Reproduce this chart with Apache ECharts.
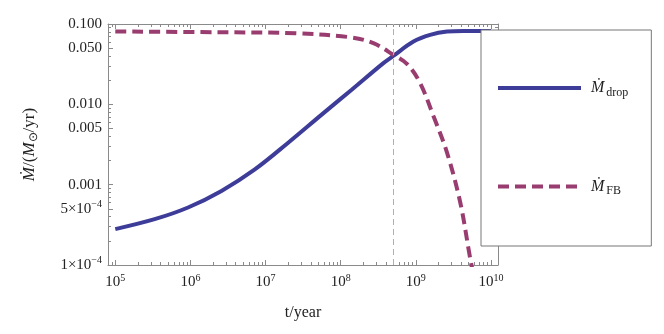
<!DOCTYPE html>
<html><head><meta charset="utf-8">
<script src="https://cdn.jsdelivr.net/npm/echarts@6/dist/echarts.min.js"></script>
<style>html,body{margin:0;padding:0;background:#fff}#c{width:664px;height:334px}</style>
</head><body><div id="c"></div>
<script>
// t in years, Mdot in Msun/yr
var tDrop = [1.0e5, 3.34e5, 9.3e5, 2.59e6, 7.2e6, 2.0e7, 5.58e7, 1.40e8, 3.7e8, 5.0e8, 9.3e8, 1.55e9, 2.6e9, 4.3e9, 7.2e9, 1.0e10];
var mDrop = [2.80e-4, 3.72e-4, 5.20e-4, 8.36e-4, 1.55e-3, 3.33e-3, 7.45e-3, 0.0152, 0.0326, 0.0400, 0.0604, 0.0731, 0.0804, 0.0818, 0.0818, 0.0818];
var tFB = [1.0e5, 2.5e6, 2.5e7, 1.33e8, 2.72e8, 5.0e8, 7.6e8, 1.14e9, 1.72e9, 2.6e9, 3.9e9, 5.3e9, 5.8e9];
var mFB = [0.0807, 0.0789, 0.0767, 0.0684, 0.0577, 0.0415, 0.0320, 0.0184, 0.0071, 0.0025, 6.0e-4, 1.19e-4, 7.9e-5];
var tMark = 5.0e8;
var xTickValues = [1e5, 1e6, 1e7, 1e8, 1e9, 1e10];
var xTickLabels = ['10{sup|5}', '10{sup|6}', '10{sup|7}', '10{sup|8}', '10{sup|9}', '10{sup|10}'];
var yTickValues = [1e-4, 5e-4, 0.001, 0.005, 0.01, 0.05, 0.1];
var yTickLabels = ['1×10{sup|−4}', '5×10{sup|−4}', '0.001', '0.005', '0.010', '0.050', '0.100'];
var xRange = [8e4, 1.24e10];
var yRange = [1e-4, 0.1];

var L = Math.log10;
function pairs(t, m) { return t.map(function (v, i) { return [L(v), L(m[i])]; }); }
function minorTicks(lo, hi) {
  var out = [];
  for (var d = Math.floor(lo) - 1; d <= Math.ceil(hi); d++) {
    for (var k = 1; k <= 9; k++) { var v = d + L(k); if (v >= lo - 1e-9 && v <= hi + 1e-9) out.push(v); }
  }
  return out;
}
function labelFor(vals, labs) {
  return function (v) {
    for (var i = 0; i < vals.length; i++) if (Math.abs(L(vals[i]) - v) < 1e-6) return labs[i];
    return '';
  };
}
var xmin = L(xRange[0]), xmax = L(xRange[1]), ymin = L(yRange[0]), ymax = L(yRange[1]);
var xMajor = xTickValues.map(L), yMajor = yTickValues.map(L);
var xMinor = minorTicks(xmin, xmax), yMinor = minorTicks(ymin, ymax);
var gray = '#8a8a8a';
var font = 'Liberation Serif';
var supRich = { sup: { fontSize: 10, fontFamily: font, padding: [0, 0, 9, 0], color: '#222' } };

function xAx(pos, ticks, len, showLabel, showLine) {
  var a = {
    type: 'value', position: pos, min: xmin, max: xmax, gridIndex: 0,
    splitLine: { show: false },
    axisLine: { show: showLine, onZero: false, lineStyle: { color: gray, width: 1 } },
    axisTick: { show: true, inside: true, length: len, customValues: ticks, lineStyle: { color: gray } },
    axisLabel: { show: showLabel, customValues: xMajor, formatter: labelFor(xTickValues, xTickLabels),
      fontFamily: font, fontSize: 15, color: '#222', margin: 8, rich: supRich }
  };
  if (showLabel) {
    a.name = 't/year'; a.nameLocation = 'middle'; a.nameGap = 40;
    a.nameTextStyle = { fontFamily: font, fontSize: 16, color: '#222' };
  }
  return a;
}
function yAx(pos, ticks, len, showLabel, showLine) {
  var a = {
    type: 'value', position: pos, min: ymin, max: ymax, gridIndex: 0,
    splitLine: { show: false },
    axisLine: { show: showLine, onZero: false, lineStyle: { color: gray, width: 1 } },
    axisTick: { show: true, inside: true, length: len, customValues: ticks, lineStyle: { color: gray } },
    axisLabel: { show: showLabel, customValues: yMajor, formatter: labelFor(yTickValues, yTickLabels),
      fontFamily: font, fontSize: 15, color: '#222', margin: 6, rich: supRich }
  };
  if (showLabel) {
    a.name = '{m|Ṁ}/({m|M}{s|⊙}/yr)'; a.nameLocation = 'middle'; a.nameGap = 68; a.nameRotate = 90;
    a.nameTextStyle = { fontFamily: font, fontSize: 17, color: '#222',
      rich: { m: { fontFamily: font, fontSize: 17, fontStyle: 'italic', color: '#222' },
              s: { fontFamily: font, fontSize: 12, color: '#222', padding: [8, 0, 0, 0] } } };
  }
  return a;
}

var chart = echarts.init(document.getElementById('c'), null, { renderer: 'canvas' });
chart.setOption({
  animation: false,
  backgroundColor: '#fff',
  grid: { left: 108, right: 166, top: 24, bottom: 69, containLabel: false },
  xAxis: [xAx('bottom', xMajor, 5, true, true), xAx('bottom', xMinor, 3, false, false),
          xAx('top', xMajor, 5, false, true), xAx('top', xMinor, 3, false, false)],
  yAxis: [yAx('left', yMajor, 5, true, true), yAx('left', yMinor, 3, false, false),
          yAx('right', yMajor, 5, false, true), yAx('right', yMinor, 3, false, false)],
  legend: {
    orient: 'vertical', left: 481, top: 30, itemWidth: 83, itemHeight: 14, itemGap: 80,
    padding: [50, 23, 49, 15], backgroundColor: '#fff', borderColor: '#777', borderWidth: 1,
    data: ['drop', 'FB'],
    itemStyle: { opacity: 0 },
    lineStyle: { width: 4 },
    formatter: function (n) { return '{m|Ṁ}{s|' + n + '}'; },
    textStyle: { fontFamily: font, color: '#222',
      rich: { m: { fontFamily: font, fontSize: 16, fontStyle: 'italic', color: '#222', padding: [0, 0, 0, 5] },
              s: { fontFamily: font, fontSize: 12, color: '#222', padding: [9, 0, 0, 2] } } }
  },
  series: [
    { name: 'drop', type: 'line', data: pairs(tDrop, mDrop), showSymbol: false, symbol: 'none',
      smooth: 0.35, clip: true, color: '#3d3d99', lineStyle: { color: '#3d3d99', width: 4 },
      markLine: { silent: true, symbol: 'none', label: { show: false },
        lineStyle: { color: '#b0b0b0', type: [6, 4], width: 1 }, data: [{ xAxis: L(tMark) }] } },
    { name: 'FB', type: 'line', data: pairs(tFB, mFB), showSymbol: false, symbol: 'none',
      smooth: 0.35, clip: true, color: '#993d71', lineStyle: { color: '#993d71', width: 4, type: [11, 6] } }
  ]
});
</script></body></html>
